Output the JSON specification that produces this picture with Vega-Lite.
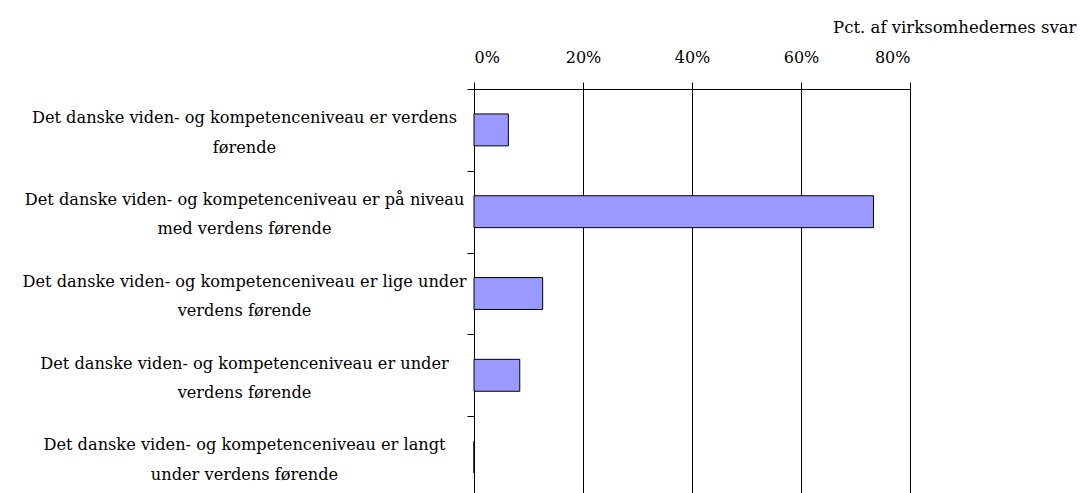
{
  "$schema": "https://vega.github.io/schema/vega-lite/v6.json",
  "autosize": {"type": "none"},
  "padding": {"left": 474, "top": 89, "right": 172, "bottom": 0},
  "width": 436,
  "height": 409,
  "background": "white",
  "config": {
    "view": {"stroke": null},
    "font": "DejaVu Serif"
  },
  "data": {
    "values": [
      {"kategori": "Det danske viden- og kompetenceniveau er verdens|førende", "pct": 6.3},
      {"kategori": "Det danske viden- og kompetenceniveau er på niveau|med verdens førende", "pct": 73.3},
      {"kategori": "Det danske viden- og kompetenceniveau er lige under|verdens førende", "pct": 12.6},
      {"kategori": "Det danske viden- og kompetenceniveau er under|verdens førende", "pct": 8.4},
      {"kategori": "Det danske viden- og kompetenceniveau er langt|under verdens førende", "pct": 0}
    ]
  },
  "mark": {"type": "bar", "fill": "#9999FF", "stroke": "#000000", "strokeWidth": 1, "height": {"band": 0.39}},
  "encoding": {
    "y": {
      "field": "kategori",
      "type": "nominal",
      "sort": null,
      "scale": {"paddingInner": 0, "paddingOuter": 0},
      "axis": {
        "orient": "left",
        "title": null,
        "tickBand": "extent",
        "tickSize": 7,
        "tickColor": "#000000",
        "domainColor": "#000000",
        "labelExpr": "split(datum.label, '|')",
        "labelAlign": "center",
        "labelBaseline": "alphabetic",
        "labelOffset": -7.3,
        "labelPadding": 223,
        "labelLimit": 0,
        "labelFont": "DejaVu Serif",
        "labelFontSize": 16.2,
        "labelLineHeight": 29.5,
        "labelColor": "#000000",
        "grid": false
      }
    },
    "x": {
      "field": "pct",
      "type": "quantitative",
      "scale": {"domain": [0, 80], "nice": false},
      "axis": {
        "orient": "top",
        "values": [0, 20, 40, 60, 80],
        "labelExpr": "datum.value + '%'",
        "tickSize": 7,
        "tickColor": "#000000",
        "domainColor": "#000000",
        "grid": true,
        "gridColor": "#000000",
        "gridOpacity": 1,
        "gridWidth": 1,
        "labelFont": "DejaVu Serif",
        "labelFontSize": 16,
        "labelColor": "#000000",
        "labelBaseline": "alphabetic",
        "labelPadding": 19.6,
        "title": "Pct. af virksomhedernes svar",
        "titleFont": "DejaVu Serif",
        "titleFontSize": 16.5,
        "titleFontWeight": "normal",
        "titleColor": "#000000",
        "titleAlign": "right",
        "titleBaseline": "alphabetic",
        "titleX": 602,
        "titleY": -57
      }
    }
  }
}
